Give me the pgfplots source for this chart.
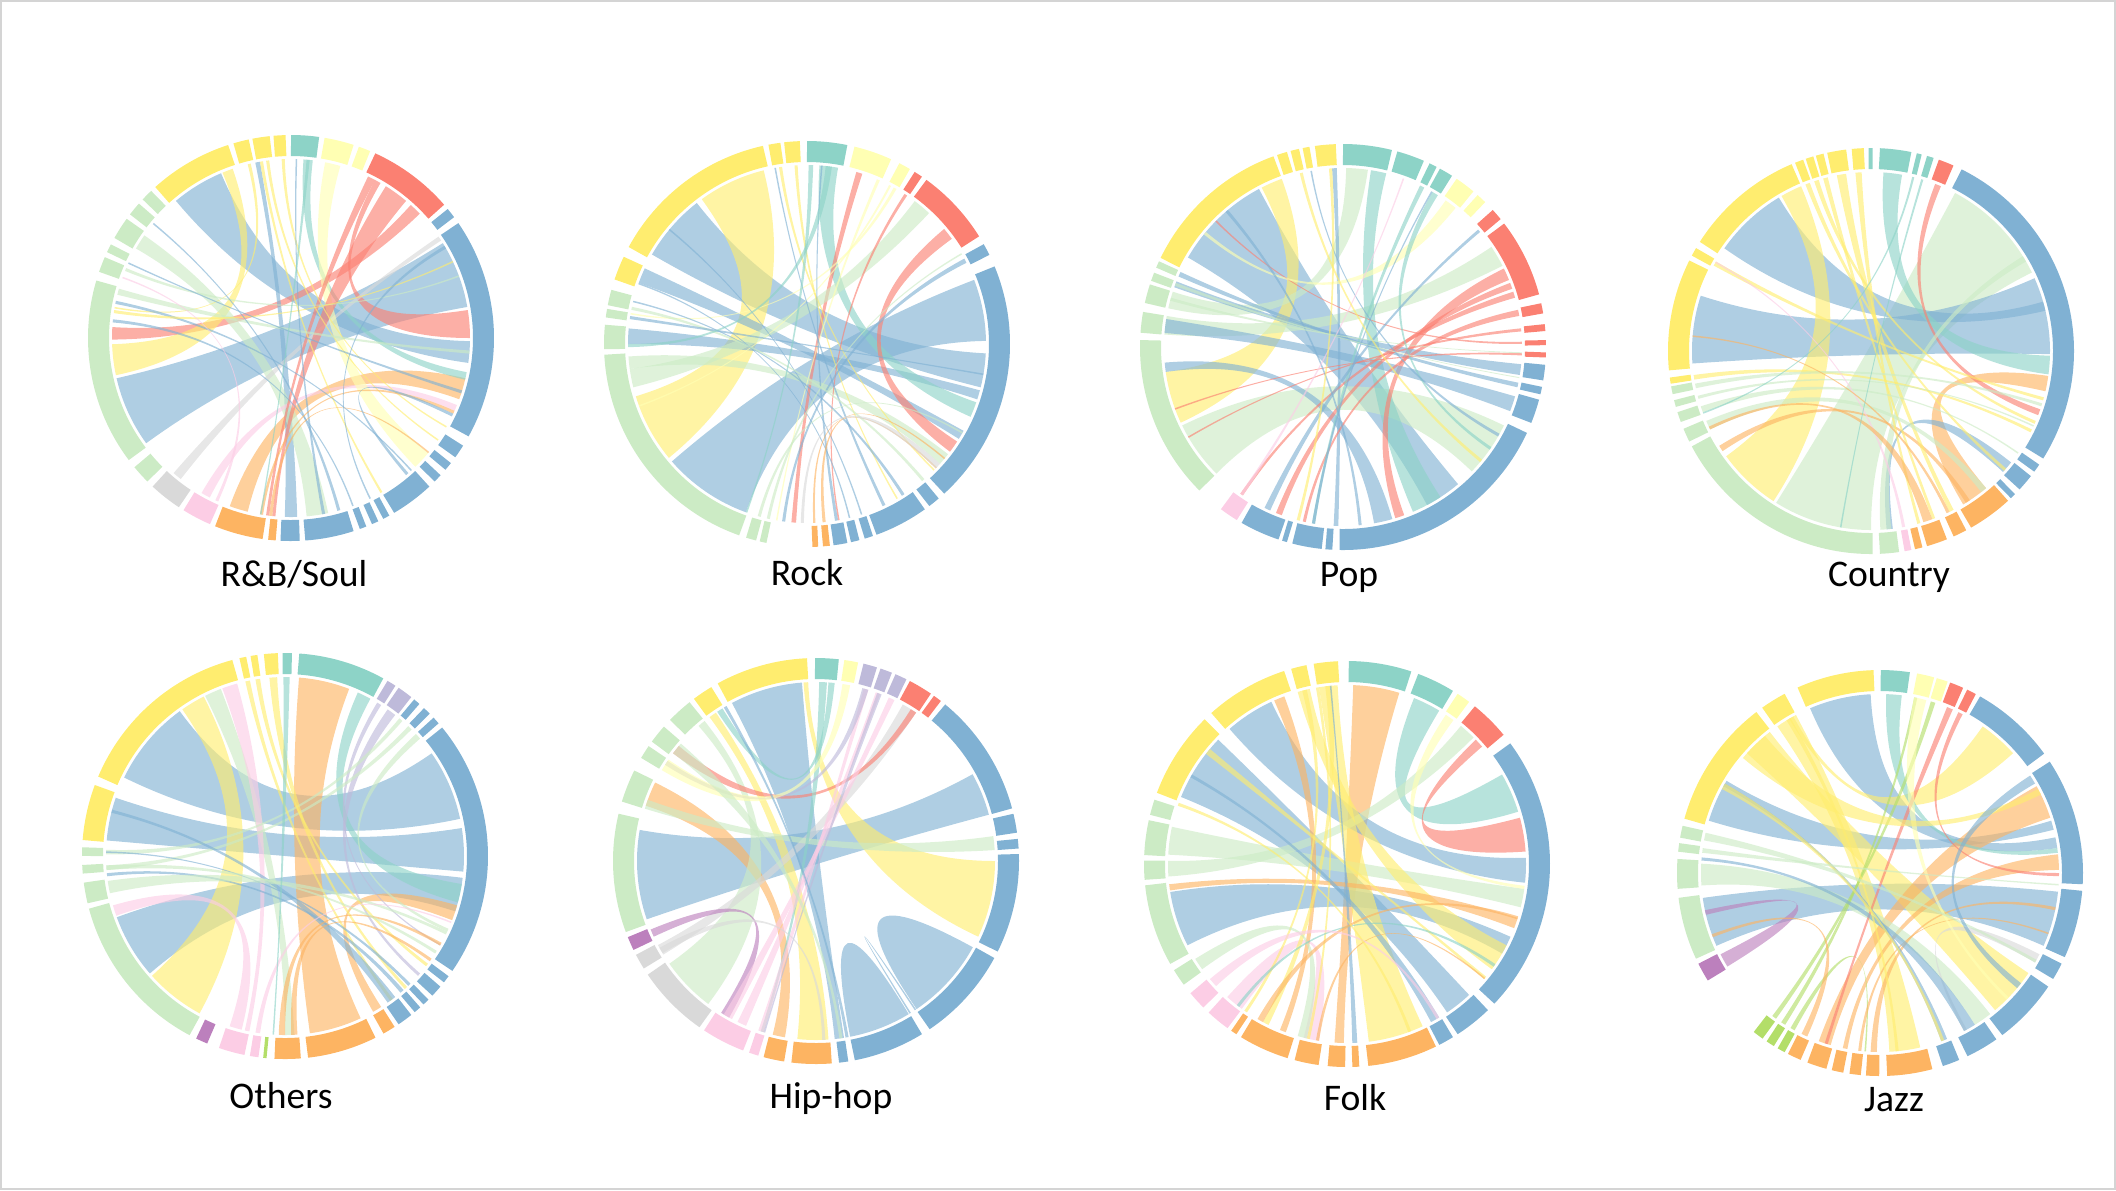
\documentclass[border=0pt]{standalone}
\usepackage{pgfplots}
\pgfplotsset{compat=1.18}
\usepackage{fontspec}
\setmainfont{Carlito}
\definecolor{cB}{HTML}{80B1D3}
\definecolor{cG}{HTML}{CCEBC5}
\definecolor{cY}{HTML}{FFED6F}
\definecolor{cT}{HTML}{8DD3C7}
\definecolor{cL}{HTML}{FFFFB3}
\definecolor{cR}{HTML}{FB8072}
\definecolor{cO}{HTML}{FDB462}
\definecolor{cP}{HTML}{FCCDE5}
\definecolor{cA}{HTML}{D9D9D9}
\definecolor{cV}{HTML}{BEBADA}
\definecolor{cU}{HTML}{BC80BD}
\definecolor{cN}{HTML}{B3DE69}
\definecolor{cFrame}{HTML}{D4D4D4}
\def\RC{192.5}\def\RCd{19.25mm}
\def\RI{179}\def\RId{17.9mm}
\def\RK{59.67}
% ring segment: a1 a2 colour
\newcommand\ring[3]{%
  \pgfmathsetmacro\xa{\cx+\RC*cos(#1)}%
  \pgfmathsetmacro\ya{\cy-\RC*sin(#1)}%
  \edef\tmp{\noexpand\draw[#3,line width=2.1mm] (axis cs:\xa,\ya) arc[start angle=#1,end angle=#2,radius=\RCd];}%
  \tmp}
% chord ribbon: a1 a2 b1 b2 colour
\newcommand\chord[5]{%
  \pgfmathsetmacro\xa{\cx+\RI*cos(#1)}\pgfmathsetmacro\ya{\cy-\RI*sin(#1)}%
  \pgfmathsetmacro\xb{\cx+\RI*cos(#3)}\pgfmathsetmacro\yb{\cy-\RI*sin(#3)}%
  \pgfmathsetmacro\kax{\cx+\RK*cos(#2)}\pgfmathsetmacro\kay{\cy-\RK*sin(#2)}%
  \pgfmathsetmacro\kbx{\cx+\RK*cos(#3)}\pgfmathsetmacro\kby{\cy-\RK*sin(#3)}%
  \pgfmathsetmacro\kcx{\cx+\RK*cos(#4)}\pgfmathsetmacro\kcy{\cy-\RK*sin(#4)}%
  \pgfmathsetmacro\kdx{\cx+\RK*cos(#1)}\pgfmathsetmacro\kdy{\cy-\RK*sin(#1)}%
  \edef\tmp{\noexpand\fill[#5,fill opacity=0.63] (axis cs:\xa,\ya) arc[start angle=#1,end angle=#2,radius=\RId] .. controls (axis cs:\kax,\kay) and (axis cs:\kbx,\kby) .. (axis cs:\xb,\yb) arc[start angle=#3,end angle=#4,radius=\RId] .. controls (axis cs:\kcx,\kcy) and (axis cs:\kdx,\kdy) .. (axis cs:\xa,\ya) -- cycle;}%
  \tmp}
\begin{document}
\begin{tikzpicture}
\begin{axis}[hide axis, x=0.1mm, y=0.1mm, xmin=0, xmax=2116, ymin=0, ymax=1190,
  y dir=reverse, clip=false]
\draw[cFrame, line width=0.2mm] (axis cs:1,1) rectangle (axis cs:2115,1189);
% ================= R&B/Soul =================
\def\cx{291}\def\cy{338}
\chord{193}{216}{10}{32}{cB}
\chord{113}{130}{-8}{-1}{cB}
\chord{176.5}{180.5}{44}{48}{cR}
\chord{0}{9}{60}{62}{cR}
\chord{182}{192}{109}{112.5}{cY}
\chord{-110}{-104}{-20}{-13}{cO}
\chord{-92}{-88}{100}{101.5}{cB}
\chord{145}{150}{-85}{-78}{cG}
\chord{-13.5}{-11}{83}{86}{cT}
\chord{-120}{-117}{-24}{-22}{cP}
\chord{-131}{-128}{33}{34.5}{cA}
\chord{74}{79}{-46}{-40}{cL}
\chord{50}{58}{-96}{-95}{cR}
\chord{62}{64.5}{-98}{-97}{cR}
\chord{92}{93}{-30}{-29.5}{cY}
\chord{97}{98}{-35}{-34.5}{cY}
\chord{103}{104}{170}{170.5}{cY}
\chord{99}{100}{-60}{-59.3}{cY}
\chord{157}{158}{20}{20.5}{cG}
\chord{164}{166}{-5}{-4}{cG}
\chord{168}{169}{-48}{-47.5}{cB}
\chord{171}{172}{25}{25.5}{cY}
\chord{174}{175}{-70}{-69.5}{cB}
\chord{-75}{-74}{140}{140.5}{cB}
\chord{-80}{-79}{88}{88.5}{cB}
\chord{-97}{-96}{-40}{-39.5}{cO}
\chord{-100}{-99}{-25}{-24}{cO}
\chord{-115}{-114}{160}{160.5}{cP}
\chord{-26}{-25}{-50}{-49}{cB}
\chord{-18}{-17}{155}{155.5}{cB}
\chord{30}{31}{-64}{-63.5}{cB}
\chord{84}{85}{-100}{-99.5}{cT}
\ring{82}{90}{cT}
\ring{72}{80.5}{cL}
\ring{67}{70.5}{cL}
\ring{41}{65.5}{cR}
\ring{36.5}{39.5}{cB}
\ring{-29}{34.5}{cB}
\ring{-36}{-32}{cB}
\ring{-40.5}{-38}{cB}
\ring{-45}{-42.5}{cB}
\ring{-59.5}{-47}{cB}
\ring{-63}{-61}{cB}
\ring{-66.5}{-64.5}{cB}
\ring{-70.2}{-68.2}{cB}
\ring{-86}{-72}{cB}
\ring{-93}{-87.5}{cB}
\ring{-96.5}{-94.3}{cO}
\ring{-112}{-98}{cO}
\ring{-122}{-113.5}{cP}
\ring{-133}{-123.5}{cA}
\ring{-140.5}{-135}{cG}
\ring{163.5}{217}{cG}
\ring{156.5}{161}{cG}
\ring{152.5}{155}{cG}
\ring{144}{150.5}{cG}
\ring{138.5}{142.5}{cG}
\ring{133.5}{137}{cG}
\ring{108}{132}{cY}
\ring{102}{106.5}{cY}
\ring{96}{101}{cY}
\ring{91.5}{95}{cY}
% ================= Rock =================
\def\cx{807}\def\cy{344}
\chord{221}{250}{1}{21}{cB}
\chord{128}{150}{-14}{-3}{cB}
\chord{197}{219.5}{104}{126}{cY}
\chord{175}{180}{-18}{-15}{cB}
\chord{155}{160}{-32}{-29}{cB}
\chord{80}{86}{-24}{-19}{cT}
\chord{36}{40}{-37}{-33}{cR}
\chord{72}{74}{-95}{-93.5}{cR}
\chord{47}{53}{188}{194}{cG}
\chord{184}{188}{-42}{-38}{cG}
\chord{93}{94}{-60}{-59.5}{cY}
\chord{98}{99}{-45}{-44.5}{cY}
\chord{60}{61}{170}{170.5}{cL}
\chord{62}{62.7}{200}{200.5}{cL}
\chord{66}{67}{-100}{-99.5}{cL}
\chord{56}{57}{-80}{-79.5}{cR}
\chord{-58}{-57}{166}{166.5}{cB}
\chord{-65}{-64}{100}{100.5}{cB}
\chord{-72.5}{-72}{140}{140.5}{cB}
\chord{-76.5}{-76}{160}{160.5}{cB}
\chord{-81}{-80}{85}{85.5}{cB}
\chord{-85}{-84}{-40}{-39.5}{cO}
\chord{-88}{-87.3}{-44}{-43.5}{cO}
\chord{-103}{-102}{30}{30.5}{cG}
\chord{-106}{-105}{-30}{-29.5}{cG}
\chord{27}{28.5}{-98}{-97}{cB}
\chord{168}{169}{-50}{-49}{cG}
\chord{171}{172}{-10}{-9.5}{cB}
\chord{-44}{-42}{-92}{-91}{cA}
\chord{88}{89.5}{-110}{-109.5}{cT}
\chord{82}{84}{180}{181}{cT}
\ring{102.5}{151.5}{cY}
\ring{97.5}{101}{cY}
\ring{92}{96.5}{cY}
\ring{78.5}{90}{cT}
\ring{65.5}{76.5}{cL}
\ring{59.5}{63}{cL}
\ring{55.5}{58}{cR}
\ring{32}{54}{cR}
\ring{26}{29.5}{cB}
\ring{-47.5}{22.5}{cB}
\ring{-53}{-49.5}{cB}
\ring{-70}{-54.5}{cB}
\ring{-73.5}{-71}{cB}
\ring{-77.5}{-75}{cB}
\ring{-82.5}{-78.5}{cB}
\ring{-85.5}{-83.5}{cO}
\ring{-88.5}{-86.8}{cO}
\ring{-103.5}{-101.5}{cG}
\ring{-107.5}{-104.5}{cG}
\ring{183}{250.5}{cG}
\ring{174.5}{181.5}{cG}
\ring{170}{172.5}{cG}
\ring{164.5}{169}{cG}
\ring{154.5}{161.5}{cY}
% ================= Pop =================
\def\cx{1343}\def\cy{347}
\chord{118}{150}{-62}{-50}{cB}
\chord{188}{205}{110}{117}{cY}
\chord{206}{225}{-44}{-26}{cG}
\chord{82}{89}{162}{167.5}{cG}
\chord{27}{34}{170}{176}{cG}
\chord{-67}{-57}{76}{81}{cT}
\chord{22}{26}{-73}{-70}{cR}
\chord{185}{188}{-80}{-74}{cB}
\chord{92}{93.5}{-93}{-91.5}{cB}
\chord{171}{175.5}{-21}{-16}{cB}
\chord{-9}{-5.5}{158.5}{160.5}{cB}
\chord{-13}{-11.5}{155.2}{156.8}{cB}
\chord{16}{18}{-125}{-124}{cR}
\chord{19}{21}{-112}{-110}{cR}
\chord{10}{12}{-103}{-102}{cR}
\chord{5}{6}{-150}{-149.5}{cR}
\chord{1}{1.7}{135}{135.5}{cR}
\chord{-2.7}{-2}{200}{200.5}{cR}
\chord{51}{55}{140}{141}{cL}
\chord{63}{64.5}{-100}{-99}{cT}
\chord{58}{60}{-35}{-34}{cT}
\chord{-30}{-29}{100}{100.5}{cB}
\chord{-85}{-84}{130}{131}{cB}
\chord{-100}{-99}{60}{60.5}{cB}
\chord{-116}{-114}{40}{41}{cB}
\chord{-125}{-124}{70}{70.5}{cP}
\chord{93.5}{94.5}{-105}{-104}{cY}
\chord{103}{104}{-40}{-39}{cY}
\chord{159}{160}{-10}{-9.7}{cG}
\chord{164}{165}{-2}{-1.7}{cG}
\ring{110}{154}{cY}
\ring{106}{109}{cY}
\ring{102.5}{105}{cY}
\ring{99.5}{101.5}{cY}
\ring{92}{98}{cY}
\ring{76}{90}{cT}
\ring{66.5}{74.5}{cT}
\ring{62.5}{64.8}{cT}
\ring{57.5}{61.5}{cT}
\ring{50}{56}{cL}
\ring{45.5}{48.5}{cL}
\ring{39}{42.5}{cR}
\ring{15}{37.5}{cR}
\ring{9.5}{12.5}{cR}
\ring{4.5}{6.5}{cR}
\ring{0.5}{2}{cR}
\ring{-3}{-1.5}{cR}
\ring{-9.5}{-5}{cB}
\ring{-13.5}{-11.3}{cB}
\ring{-22}{-15}{cB}
\ring{-91}{-25}{cB}
\ring{-95}{-93}{cB}
\ring{-104.5}{-96}{cB}
\ring{-107.5}{-106}{cB}
\ring{-120}{-108.5}{cB}
\ring{-127}{-121.5}{cP}
\ring{178}{225}{cG}
\ring{170}{176}{cG}
\ring{162}{167.5}{cG}
\ring{158.5}{161}{cG}
\ring{155}{157}{cG}
% ================= Country =================
\def\cx{1871}\def\cy{351}
\chord{238}{270}{26}{62}{cG}
\chord{162}{184}{-1}{24}{cB}
\chord{121}{145}{13}{16}{cB}
\chord{216}{237}{113}{120}{cY}
\chord{-7.5}{-1.5}{80}{86}{cT}
\chord{-13}{-8}{-59}{-50}{cO}
\chord{-58}{-56.5}{212}{214}{cO}
\chord{67}{69}{-21}{-19}{cR}
\chord{-42.5}{-38.5}{-85}{-83}{cB}
\chord{-87}{-83.5}{30}{32}{cG}
\chord{98}{101}{-64}{-62.5}{cY}
\chord{104}{105.5}{-70}{-69}{cY}
\chord{107}{108.5}{-24}{-23}{cY}
\chord{110}{111.5}{-42}{-41}{cY}
\chord{93}{95}{-75}{-74}{cY}
\chord{150}{151.5}{-16}{-15}{cY}
\chord{187.7}{189.2}{-27}{-26}{cY}
\chord{190.5}{192}{-18}{-17}{cG}
\chord{194.5}{195.5}{-25}{-24.5}{cG}
\chord{198}{200}{-35}{-34.5}{cG}
\chord{203}{206}{-52}{-50}{cG}
\chord{-80}{-79}{150}{150.5}{cP}
\chord{-73}{-70}{205}{206}{cO}
\chord{-65}{-64}{175}{175.5}{cO}
\chord{73}{73.7}{-100}{-99.5}{cT}
\chord{76}{76.7}{200}{200.5}{cT}
\ring{-32}{63.5}{cB}
\ring{-36.5}{-34}{cB}
\ring{-43}{-38}{cB}
\ring{-46.5}{-44.8}{cB}
\ring{-60.5}{-47.5}{cO}
\ring{-66}{-62}{cO}
\ring{-74}{-68}{cO}
\ring{-77.5}{-75.3}{cO}
\ring{-80.5}{-78.5}{cP}
\ring{-87.5}{-82}{cG}
\ring{208}{270.5}{cG}
\ring{202.5}{206.5}{cG}
\ring{197.5}{200.5}{cG}
\ring{194}{196}{cG}
\ring{190}{192.3}{cG}
\ring{187.5}{189.3}{cY}
\ring{153.5}{185.5}{cY}
\ring{149.5}{152}{cY}
\ring{113}{147.5}{cY}
\ring{109.5}{112}{cY}
\ring{106.5}{108.8}{cY}
\ring{103.5}{105.8}{cY}
\ring{97}{102.5}{cY}
\ring{92}{95.5}{cY}
\ring{89.5}{90.7}{cT}
\ring{78.5}{87.5}{cT}
\ring{75.5}{77}{cT}
\ring{72}{74}{cT}
\ring{66}{70.5}{cR}
% ================= Others =================
\def\cx{285}\def\cy{856}
\chord{126}{154}{12}{35}{cB}
\chord{161}{175}{-5}{9}{cB}
\chord{200}{221}{-18}{-7}{cB}
\chord{222}{241.5}{117}{125}{cY}
\chord{-82}{-65}{69}{85.5}{cO}
\chord{-15}{-9}{61.5}{66}{cT}
\chord{-21}{-16}{-60.5}{-57.5}{cO}
\chord{196}{199.5}{-108}{-104}{cP}
\chord{111}{116.5}{-90}{-87}{cG}
\chord{105.5}{110.5}{-103}{-101.5}{cP}
\chord{52}{55}{-42}{-41}{cV}
\chord{57.5}{59}{-30}{-29.5}{cV}
\chord{41}{43}{-25}{-24}{cG}
\chord{45}{46.5}{183}{184.5}{cG}
\chord{49}{50.3}{178}{179.5}{cG}
\chord{92.5}{95}{-48}{-47}{cY}
\chord{98}{99.5}{-38}{-37}{cY}
\chord{101.3}{102.8}{-54}{-53}{cY}
\chord{-55}{-52}{165}{166}{cB}
\chord{-49.8}{-48.5}{185.5}{186.5}{cB}
\chord{-46.5}{-45.5}{178.5}{179}{cB}
\chord{-92}{-90}{-30}{-29}{cO}
\chord{-88}{-86}{-36}{-35}{cO}
\chord{188}{192}{-26}{-25}{cG}
\chord{183}{184.5}{-33}{-32}{cG}
\chord{-99.5}{-98}{-22}{-21.5}{cP}
\chord{88.5}{90.5}{-94}{-93.5}{cT}
\ring{105}{157}{cY}
\ring{159.5}{175.5}{cY}
\ring{101}{103}{cY}
\ring{97.8}{99.8}{cY}
\ring{92}{96}{cY}
\ring{88}{90.7}{cT}
\ring{61}{86}{cT}
\ring{57}{59.7}{cV}
\ring{51.5}{56}{cV}
\ring{48.5}{50.5}{cB}
\ring{44.5}{46.8}{cB}
\ring{40.8}{43}{cB}
\ring{-34.5}{39.3}{cB}
\ring{-38.5}{-36.3}{cB}
\ring{-43.5}{-40}{cB}
\ring{-47}{-45}{cB}
\ring{-50.3}{-48.2}{cB}
\ring{-56}{-51.5}{cB}
\ring{-61}{-57.3}{cO}
\ring{-83.5}{-63.5}{cO}
\ring{-93}{-85.5}{cO}
\ring{-96.2}{-95.2}{cN}
\ring{-100}{-97.5}{cP}
\ring{-109}{-101.5}{cP}
\ring{-116}{-112.5}{cU}
\ring{195}{242}{cG}
\ring{187.5}{193.5}{cG}
\ring{182.5}{185}{cG}
\ring{177.5}{180}{cG}
% ================= Hip-hop =================
\def\cx{816}\def\cy{861}
\chord{170}{199}{15}{29}{cB}
\chord{94.5}{118}{-84}{-81}{cB}
\chord{-79}{-69}{-69}{-58.8}{cB}
\chord{-55.8}{-42}{-42}{-28.8}{cB}
\chord{-25}{0}{92.5}{94}{cY}
\chord{-96}{-86}{124}{126.5}{cY}
\chord{154}{162}{-104}{-100}{cO}
\chord{215}{233}{128.5}{131}{cG}
\chord{208}{211.5}{56}{61}{cA}
\chord{3.5}{8}{160}{163}{cG}
\chord{202.5}{205}{-122}{-119}{cU}
\chord{56}{58}{140}{143}{cR}
\chord{121.5}{123.5}{84}{86}{cT}
\chord{86.5}{89}{-108}{-107}{cT}
\chord{-121}{-118}{64}{66}{cP}
\chord{-116}{-113}{69}{70.5}{cP}
\chord{-108.8}{-107}{73}{74.5}{cP}
\chord{73}{75}{146}{147.5}{cV}
\chord{68.5}{70}{-107}{-106.5}{cV}
\chord{145.5}{149.5}{79}{81.5}{cL}
\chord{209}{211}{-88}{-87}{cA}
\chord{-80.5}{-79.5}{120}{121}{cB}
\chord{-58.5}{-58}{-56.5}{-56}{cB}
\chord{139}{143}{-82.5}{-81.5}{cG}
\ring{92.5}{119}{cY}
\ring{121}{127}{cY}
\ring{83.5}{90.3}{cT}
\ring{78}{82}{cL}
\ring{72.5}{76.5}{cV}
\ring{68}{71.5}{cV}
\ring{63.5}{67}{cV}
\ring{55.5}{62.5}{cR}
\ring{52}{54.5}{cR}
\ring{15}{50.5}{cB}
\ring{8}{13.5}{cB}
\ring{3.5}{6.3}{cB}
\ring{-26.5}{2}{cB}
\ring{-56}{-28.5}{cB}
\ring{-79}{-58.5}{cB}
\ring{-83.5}{-80.8}{cB}
\ring{-97}{-85.5}{cO}
\ring{-105}{-99}{cO}
\ring{-109.3}{-106.5}{cP}
\ring{-123.5}{-111}{cP}
\ring{214}{235}{cA}
\ring{207.5}{212}{cA}
\ring{202}{206}{cU}
\ring{166.5}{200.5}{cG}
\ring{153.5}{163}{cG}
\ring{145.5}{149.5}{cG}
\ring{138.5}{144}{cG}
\ring{128.5}{136}{cG}
% ================= Folk =================
\def\cx{1347}\def\cy{864}
\chord{73}{88}{-94}{-91}{cO}
\chord{115}{131}{-6}{2}{cB}
\chord{136}{158}{-56}{-47}{cB}
\chord{189}{207}{-30}{-24}{cB}
\chord{17}{30}{59}{68}{cT}
\chord{4}{15}{41}{44}{cR}
\chord{168}{177}{-14}{-8}{cG}
\chord{179}{184}{45}{50.5}{cG}
\chord{-83}{-65}{93}{99}{cY}
\chord{-36}{-27}{102}{106}{cY}
\chord{-132}{-126}{-104}{-99}{cP}
\chord{186.5}{188.5}{-21}{-17.5}{cO}
\chord{110.5}{114}{-112}{-110}{cO}
\chord{95}{97}{-118}{-116}{cY}
\chord{103}{104.5}{-125}{-124}{cY}
\chord{99}{100}{-103}{-102}{cY}
\chord{140}{142}{-40}{-39}{cY}
\chord{212}{216}{-106}{-103}{cG}
\chord{-62}{-59}{150}{151}{cB}
\chord{-88.3}{-86.7}{95}{95.5}{cB}
\chord{-128}{-127}{-35}{-34}{cT}
\chord{-120}{-118}{-18}{-17}{cO}
\chord{-100}{-99}{-40}{-39.5}{cO}
\chord{-140}{-137}{-60}{-59}{cP}
\chord{53.5}{56.5}{-8}{-7}{cL}
\chord{160}{161}{-70}{-69}{cY}
\ring{-43.5}{36.5}{cB}
\ring{-57}{-46}{cB}
\ring{-63}{-58.5}{cB}
\ring{-84}{-64}{cO}
\ring{-88.5}{-86.5}{cO}
\ring{-95.5}{-90.5}{cO}
\ring{-105}{-98}{cO}
\ring{-121.5}{-107}{cO}
\ring{-124.8}{-123}{cO}
\ring{-133}{-126}{cP}
\ring{-140.5}{-135}{cP}
\ring{211.5}{216.5}{cG}
\ring{186}{209.5}{cG}
\ring{179}{184.5}{cG}
\ring{167.5}{177.5}{cG}
\ring{161.5}{166}{cG}
\ring{134.5}{159.5}{cY}
\ring{108}{132}{cY}
\ring{101.5}{106}{cY}
\ring{92.5}{99.5}{cY}
\ring{71.5}{89.5}{cT}
\ring{58.5}{69.5}{cT}
\ring{53}{57}{cL}
\ring{39.5}{51}{cR}
% ================= Jazz =================
\def\cx{1880}\def\cy{873}
\chord{93}{113}{8}{11.5}{cB}
\chord{149}{163}{14}{17}{cB}
\chord{188}{204}{-24}{-6}{cB}
\chord{-50}{-34}{128}{138}{cY}
\chord{-87}{-77}{118}{125}{cY}
\chord{42}{55}{119}{120.5}{cY}
\chord{18}{29}{-110}{-106}{cO}
\chord{1}{6}{-102}{-100.5}{cO}
\chord{6.5}{8}{83}{88}{cT}
\chord{177}{184}{-58}{-52}{cG}
\chord{207}{211.5}{192}{193.5}{cU}
\chord{-127}{-125.5}{72}{73.5}{cN}
\chord{-123.5}{-122}{78}{79}{cN}
\chord{-120}{-118.5}{-95}{-94.5}{cN}
\chord{-116}{-114}{200}{201}{cO}
\chord{-97}{-96}{-20}{-19.5}{cO}
\chord{-93}{-91}{-12}{-11}{cO}
\chord{-30}{-27}{-62}{-61}{cA}
\chord{62.5}{64}{-1}{0}{cR}
\chord{66}{68}{-108}{-107}{cR}
\chord{-70}{-68}{150}{151}{cB}
\chord{-62}{-58}{175}{176}{cB}
\chord{75}{79}{-45}{-44}{cL}
\chord{130}{140}{26}{28}{cY}
\chord{150}{152}{-70}{-69}{cY}
\chord{120}{121.5}{-85}{-84}{cY}
\chord{167}{169.5}{-30}{-29}{cG}
\chord{172}{173.5}{-4}{-3.5}{cG}
\chord{30}{33}{-40}{-38}{cB}
\ring{36}{60.5}{cB}
\ring{-3.2}{33.3}{cB}
\ring{-24.5}{-5}{cB}
\ring{-31.5}{-26.5}{cB}
\ring{-53}{-34}{cB}
\ring{-64.5}{-55}{cB}
\ring{-72}{-67}{cB}
\ring{-88}{-75}{cO}
\ring{-94}{-90.2}{cO}
\ring{-98.7}{-95.4}{cO}
\ring{-103.8}{-100.4}{cO}
\ring{-111}{-105.3}{cO}
\ring{-117}{-113}{cO}
\ring{-120.3}{-118}{cN}
\ring{-124}{-121.5}{cN}
\ring{-128.5}{-125.3}{cN}
\ring{206.5}{212}{cU}
\ring{187}{205}{cG}
\ring{176}{184.5}{cG}
\ring{171.5}{174}{cG}
\ring{166.5}{170}{cG}
\ring{127.5}{164.5}{cY}
\ring{118}{125.5}{cY}
\ring{91.8}{114}{cY}
\ring{81.5}{89.8}{cT}
\ring{74.5}{79.5}{cL}
\ring{70.5}{73.8}{cL}
\ring{65.8}{69.8}{cR}
\ring{61.8}{64.6}{cR}
% ================= labels =================
\begin{scope}[every node/.style={anchor=base, inner sep=0pt, font=\fontsize{10.7}{13}\selectfont}]
\node at (axis cs:294,586) {R\&B/Soul};
\node at (axis cs:807,585) {Rock};
\node at (axis cs:1349,586) {Pop};
\node at (axis cs:1889,586) {Country};
\node at (axis cs:281,1108) {Others};
\node at (axis cs:831,1108) {Hip-hop};
\node at (axis cs:1355,1110) {Folk};
\node at (axis cs:1894,1111) {Jazz};
\end{scope}
\end{axis}
\end{tikzpicture}
\end{document}
